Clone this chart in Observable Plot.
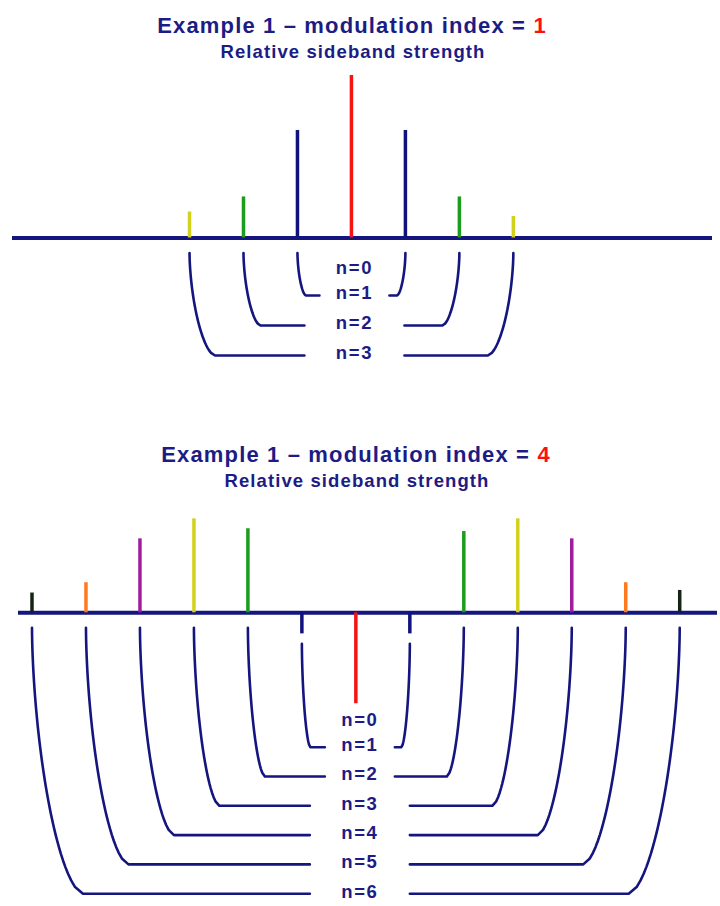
<!DOCTYPE html>
<html><head><meta charset="utf-8">
<script src="https://cdn.jsdelivr.net/npm/d3@7"></script>
<script src="https://cdn.jsdelivr.net/npm/@observablehq/plot@0.6"></script>
<style>
html,body{margin:0;padding:0;background:#fff;}
#root{position:relative;width:720px;height:906px;overflow:hidden;font-family:"Liberation Sans",Arial,sans-serif;}
.title{position:absolute;width:720px;text-align:center;font-weight:bold;color:#1c1c84;white-space:nowrap;line-height:1;}
.t1{font-size:22px;letter-spacing:1.15px;}
.t2{font-size:18.5px;letter-spacing:1.1px;}
.hl{color:#ff1010;}
.panel{position:absolute;left:0;}
.panel text{letter-spacing:1.6px;}
</style></head><body><div id="root"></div>
<script>
// ---- data ----
const titleText = "Example 1 \u2013 modulation index = ";
const subtitleText = "Relative sideband strength";
const modIndex1 = "1";
const modIndex2 = "4";

// sideband number k (negative = lower sideband), relative strength
const sidebands1 = [-3, -2, -1, 0, 1, 2, 3];
const strength1  = [0.121, 0.191, 0.50, 0.756, 0.50, 0.191, 0.10];

const sidebands2 = [-6, -5, -4, -3, -2, -1, 0, 1, 2, 3, 4, 5, 6];
const strength2  = [0.092, 0.14, 0.344, 0.437, 0.391, -0.098, -0.423, -0.098, 0.378, 0.437, 0.344, 0.14, 0.104];

// colour of each order n = |k|
const orderColors = ["#f41414", "#12127e", "#1c9c1c", "#d2d21e", "#a01ca0", "#ff7a1e", "#142414"];
const labelPrefix = "n=";

// ---- drawing ----
const navy = "#15157f";
const Ky = 215; // px per unit of strength
const W = 720;

function panel(o) {
  const {sidebands, strength, xDomain, marginLeft, marginRight, height, baseline,
         firstLevel, step, narrowUpTo, labelDx} = o;
  const Kx = (W - marginLeft - marginRight) / (xDomain[1] - xDomain[0]);
  const bars = sidebands.map((k, i) => ({k, n: Math.abs(k), v: strength[i]}));
  const yHi = baseline / Ky, yLo = -(height - baseline) / Ky;
  const N = d3.max(bars, d => d.n);
  const cx = labelDx / Kx;
  const m = 1.7;
  const brackets = [];
  for (const b of bars) {
    if (b.n === 0) continue;
    const topPx = b.v < 0 ? (-b.v * Ky + 10) : 15;
    const levelPx = firstLevel + step * (b.n - 1);
    const a = 8.5 * b.n;
    const dir = b.k < 0 ? 1 : -1;
    const id = "b" + b.k;
    for (let i = 0; i <= 40; i++) {
      const t = i / 40;
      const depth = topPx + t * (levelPx - topPx);
      const off = a * (1 - Math.pow(1 - Math.pow(t, m), 1 / m));
      brackets.push({id, x: b.k + dir * off / Kx, y: -depth / Ky});
    }
    const half = (b.n <= narrowUpTo ? 35 : 50) / Kx;
    brackets.push({id, x: cx - dir * half, y: -levelPx / Ky});
  }
  const labels = d3.range(0, N + 1).map(n => ({
    text: labelPrefix + n,
    y: -(n === 0 ? firstLevel - 27 : firstLevel + step * (n - 1) - 2) / Ky
  }));
  return Plot.plot({
    width: W, height,
    marginLeft, marginRight, marginTop: 0, marginBottom: 0,
    x: {domain: xDomain, axis: null},
    y: {domain: [yLo, yHi], range: [height, 0], axis: null},
    color: {type: "identity"},
    style: {fontFamily: "'Liberation Sans', Arial, sans-serif", background: "transparent"},
    marks: [
      Plot.ruleY([0], {stroke: navy, strokeWidth: 4}),
      Plot.ruleX(bars, {x: "k", y1: 0, y2: "v", stroke: d => orderColors[d.n], strokeWidth: 3.5}),
      Plot.line(brackets, {x: "x", y: "y", z: "id", stroke: navy, strokeWidth: 2.6, curve: "linear"}),
      Plot.text(labels, {x: cx, y: "y", text: "text", fill: "#1c1c84", fontSize: 18.5, fontWeight: "bold"})
    ]
  });
}

const root = document.getElementById("root");
function addTitle(top, cls, text, hl, centerX) {
  const d = document.createElement("div");
  d.className = "title " + cls;
  d.style.top = top + "px";
  d.style.left = (centerX - W / 2) + "px";
  d.append(text);
  if (hl) { const s = document.createElement("span"); s.className = "hl"; s.textContent = hl; d.append(s); }
  root.append(d);
}
function addPanel(top, svg) {
  const d = document.createElement("div");
  d.className = "panel";
  d.style.top = top + "px";
  d.append(svg);
  root.append(d);
}

addTitle(14.5, "t1", titleText, modIndex1, 352);
addTitle(42.5, "t2", subtitleText, null, 353);
addPanel(60, panel({
  sidebands: sidebands1, strength: strength1,
  xDomain: [-6.28, 6.69], marginLeft: 12, marginRight: 8,
  height: 320, baseline: 177.5,
  firstLevel: 57.5, step: 30, narrowUpTo: 1, labelDx: 3
}));

addTitle(443.5, "t1", titleText, modIndex2, 356);
addTitle(471.5, "t2", subtitleText, null, 357);
addPanel(495, panel({
  sidebands: sidebands2, strength: strength2,
  xDomain: [-6.25, 6.70], marginLeft: 18, marginRight: 3,
  height: 411, baseline: 117.3,
  firstLevel: 134.4, step: 29.3, narrowUpTo: 2, labelDx: 4
}));
</script>
</body></html>
